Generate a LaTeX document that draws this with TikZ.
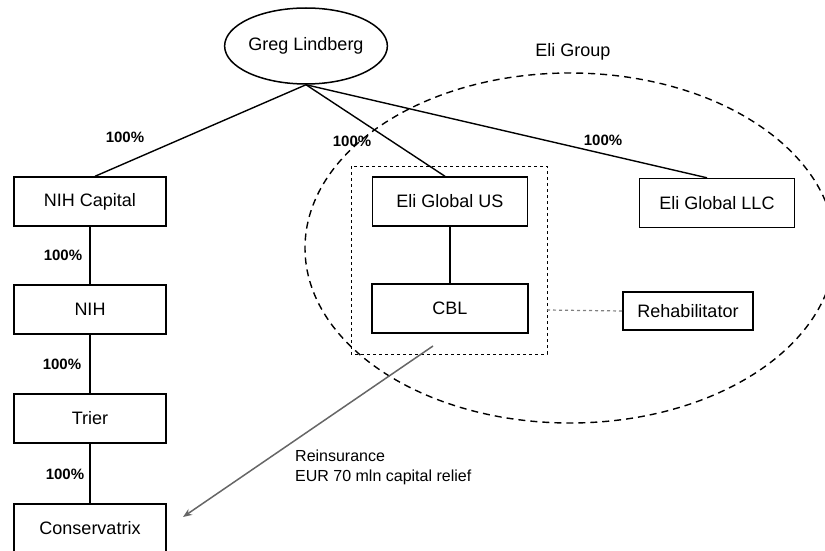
\documentclass[tikz,border=0pt]{standalone}
\usepackage{fontspec}
\setmainfont{Liberation Sans}
\usetikzlibrary{shapes.geometric,arrows.meta}
\tikzset{
  entity/.style={draw, line width=1.4pt, minimum width=152pt, minimum height=49pt, inner sep=0pt, font=\fontsize{18}{20}\selectfont},
  share/.style={font=\bfseries\fontsize{15}{17}\selectfont},
  link/.style={line width=1.4pt}
}
\begin{document}
\begin{tikzpicture}[x=1pt, y=-1pt]
            \useasboundingbox (0,0) rectangle (825,551);
            % owner
            \node[draw, ellipse, line width=1.5pt, minimum width=137pt, minimum height=76pt, inner sep=0pt, font=\fontsize{18}{20}\selectfont] (greg) at (306,46) {Greg Lindberg};
            % group boundary
            \draw[dashed, line width=1.4pt, dash pattern=on 7pt off 5pt] (570,248) ellipse [x radius=265pt, y radius=175pt];
            \node[font=\fontsize{18}{20}\selectfont] (eligroup) at (573,52) {Eli Group};
            \draw[line width=1pt, dash pattern=on 3pt off 3pt] (351,166) rectangle (547,354);
            % left chain
            \node[entity] (nihcap) at (90,201.5) {NIH Capital};
            \node[entity] (nih) at (90,309.5) {NIH};
            \node[entity] (trier) at (90,418.5) {Trier};
            \node[entity] (cons) at (90,528.5) {Conservatrix};
            % Eli side
            \node[entity, minimum width=155pt] (eliUS) at (450,201.5) {Eli Global US};
            \node[entity, minimum width=156pt] (cbl) at (450,308.5) {CBL};
            \node[entity, minimum width=155pt] (eliLLC) at (717,203) {Eli Global LLC};
            \node[entity, minimum width=130pt, minimum height=38pt] (rehab) at (688,311) {Rehabilitator};
            % ownership links
            \draw[link] (greg.south) -- ([xshift=5pt]nihcap.north);
            \draw[link] (greg.south) -- ([xshift=-5pt]eliUS.north);
            \draw[link] (greg.south) -- ([xshift=-10pt]eliLLC.north);
            \draw[link] (nihcap) -- (nih);
            \draw[link] (nih) -- (trier);
            \draw[link] (trier) -- (cons);
            \draw[link] (eliUS) -- (cbl);
            \node[share] (p1) at (125,137) {100\%};
            \node[share] (p2) at (352,141) {100\%};
            \node[share] (p3) at (603,140) {100\%};
            \node[share] (p4) at (63,255) {100\%};
            \node[share] (p5) at (62,364) {100\%};
            \node[share] (p6) at (65,474) {100\%};
            % rehabilitator and reinsurance
            \coordinate (boxR) at (547,310);
            \draw[gray, line width=1.2pt, dash pattern=on 3pt off 3pt] (boxR) -- (rehab.west);
            \coordinate (reStart) at (433,346);
            \coordinate (reEnd) at (183,517);
            \draw[gray!80!black, line width=1.5pt, -{Stealth[length=9pt, width=7pt]}] (reStart) -- (reEnd);
            \node[anchor=north west, align=left, inner sep=0pt, font=\fontsize{16}{20}\selectfont] (reins) at (295,450) {Reinsurance\\EUR 70 mln capital relief};
        \end{tikzpicture}
\end{document}
